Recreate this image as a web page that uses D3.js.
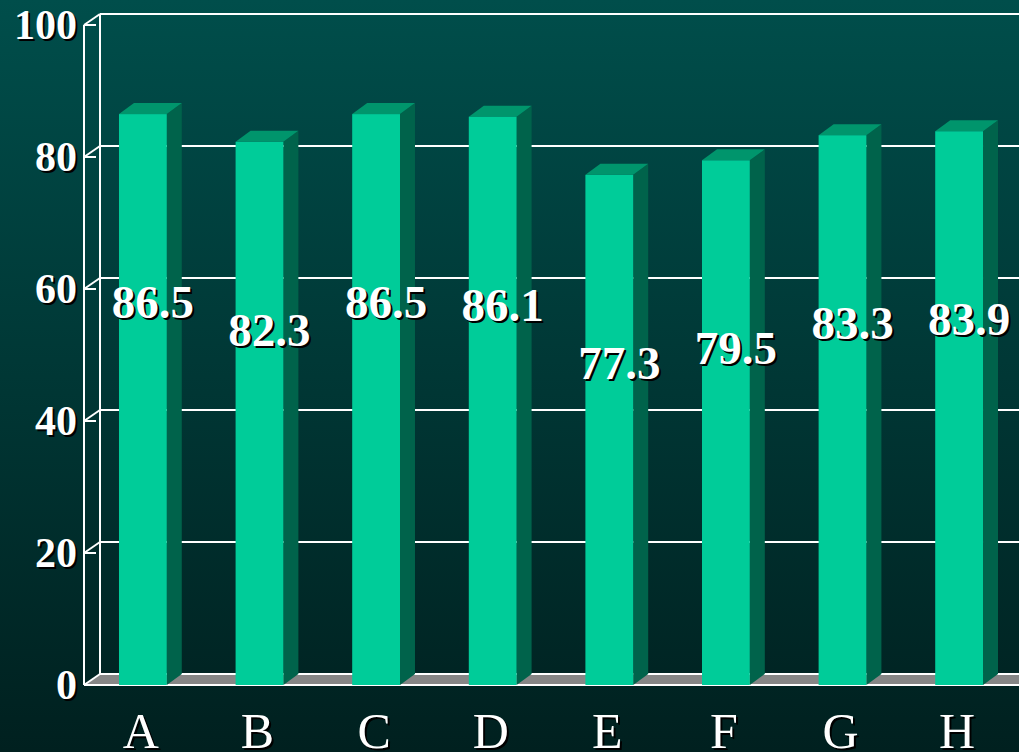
<!DOCTYPE html>
<html>
<head>
<meta charset="utf-8">
<script src="https://cdn.jsdelivr.net/npm/d3@7"></script>
<style>
  html, body { margin: 0; padding: 0; background: #00302e; overflow: hidden; }
  svg { display: block; }
</style>
</head>
<body>
<svg id="chart" width="1019" height="752"></svg>
<script>
// Chart data
const categories = ["A", "B", "C", "D", "E", "F", "G", "H"];
const values = [86.5, 82.3, 86.5, 86.1, 77.3, 79.5, 83.3, 83.9];
const yTicks = [0, 20, 40, 60, 80, 100];

const W = 1019, H = 752;
const svg = d3.select("#chart");

// Background gradient
const defs = svg.append("defs");
const grad = defs.append("linearGradient")
  .attr("id", "bg").attr("x1", 0).attr("y1", 0).attr("x2", 0).attr("y2", 1);
grad.append("stop").attr("offset", "0%").attr("stop-color", "#004e4b");
grad.append("stop").attr("offset", "100%").attr("stop-color", "#00201f");
svg.append("rect").attr("width", W).attr("height", H).attr("fill", "url(#bg)");

// 3D frame geometry: front plane and the depth shift to the back wall
const frontLeft = 84;
const wallDx = 16, wallDy = -11;
const barDx = 15, barDy = -11;

const x = d3.scaleBand()
  .domain(categories)
  .range([frontLeft, 1018])
  .paddingInner(0.59)
  .paddingOuter(0.3);

const yFront = d3.scaleLinear().domain([0, 100]).range([685, 25]);
const yBack = v => yFront(v) + wallDy;
const backLeft = frontLeft + wallDx;

const frame = svg.append("g")
  .attr("stroke", "#ffffff")
  .attr("stroke-width", 2)
  .attr("fill", "none");

// Floor (gray slab)
svg.insert("path", "g")
  .attr("d", `M${frontLeft},${yFront(0)} L${backLeft},${yBack(0)} L${W + 5},${yBack(0)} L${W + 5},${yFront(0)} Z`)
  .attr("fill", "#868686");

// Back wall gridlines
frame.selectAll("line.grid")
  .data(yTicks)
  .join("line")
  .attr("class", "grid")
  .attr("x1", backLeft).attr("x2", W + 5)
  .attr("y1", d => yBack(d)).attr("y2", d => yBack(d));

// Left wall: back and front verticals
frame.append("line")
  .attr("x1", backLeft).attr("x2", backLeft)
  .attr("y1", yBack(100)).attr("y2", yBack(0));
frame.append("line")
  .attr("x1", frontLeft).attr("x2", frontLeft)
  .attr("y1", yFront(100)).attr("y2", yFront(0));

// Left wall diagonals and tick marks
frame.selectAll("line.diag")
  .data(yTicks)
  .join("line")
  .attr("class", "diag")
  .attr("x1", frontLeft).attr("x2", backLeft)
  .attr("y1", d => yFront(d)).attr("y2", d => yBack(d));
frame.selectAll("line.tick")
  .data(yTicks)
  .join("line")
  .attr("class", "tick")
  .attr("x1", frontLeft).attr("x2", frontLeft + 12)
  .attr("y1", d => yFront(d)).attr("y2", d => yFront(d));

// Floor front edge
frame.append("line")
  .attr("x1", frontLeft).attr("x2", W + 5)
  .attr("y1", yFront(0)).attr("y2", yFront(0));

// Bars as extruded boxes
const bars = svg.append("g").selectAll("g.bar")
  .data(categories.map((c, i) => ({ c, v: values[i] })))
  .join("g")
  .attr("class", "bar");

bars.append("path") // side face
  .attr("fill", "#00634b")
  .attr("d", d => {
    const x1 = x(d.c) + x.bandwidth();
    const yt = yFront(d.v), yb = yFront(0);
    return `M${x1},${yt} L${x1 + barDx},${yt + barDy} L${x1 + barDx},${yb + barDy} L${x1},${yb} Z`;
  });
bars.append("path") // top face
  .attr("fill", "#00956c")
  .attr("d", d => {
    const x0 = x(d.c), x1 = x0 + x.bandwidth();
    const yt = yFront(d.v);
    return `M${x0},${yt} L${x0 + barDx},${yt + barDy} L${x1 + barDx},${yt + barDy} L${x1},${yt} Z`;
  });
bars.append("rect") // front face
  .attr("fill", "#00cc99")
  .attr("x", d => x(d.c))
  .attr("y", d => yFront(d.v))
  .attr("width", x.bandwidth())
  .attr("height", d => yFront(0) - yFront(d.v));

// Text helper: white text with a dark drop shadow
function shadowText(g, opts) {
  const sel = g.append("g");
  sel.append("text")
    .attr("x", opts.x + 2).attr("y", opts.y + 2)
    .attr("fill", "#000000")
    .attr("text-anchor", opts.anchor)
    .attr("font-family", "'Liberation Serif', 'Times New Roman', serif")
    .attr("font-size", opts.size)
    .attr("font-weight", opts.weight)
    .text(opts.text);
  sel.append("text")
    .attr("x", opts.x).attr("y", opts.y)
    .attr("fill", "#ffffff")
    .attr("text-anchor", opts.anchor)
    .attr("font-family", "'Liberation Serif', 'Times New Roman', serif")
    .attr("font-size", opts.size)
    .attr("font-weight", opts.weight)
    .text(opts.text);
}

const textLayer = svg.append("g");

// Y tick labels
yTicks.forEach(t => {
  shadowText(textLayer, {
    x: 77, y: yFront(t) + 14, anchor: "end",
    size: 42, weight: "bold", text: String(t)
  });
});

// Category labels along the bottom edge
categories.forEach(c => {
  shadowText(textLayer, {
    x: x(c) + x.bandwidth() / 2 - 2, y: 748, anchor: "middle",
    size: 50, weight: "normal", text: c
  });
});

// Value labels, set a fixed distance below each bar top
categories.forEach((c, i) => {
  shadowText(textLayer, {
    x: x(c) + x.bandwidth() / 2 + 10, y: yFront(values[i]) + 204, anchor: "middle",
    size: 47, weight: "bold", text: values[i].toFixed(1)
  });
});
</script>
</body>
</html>
